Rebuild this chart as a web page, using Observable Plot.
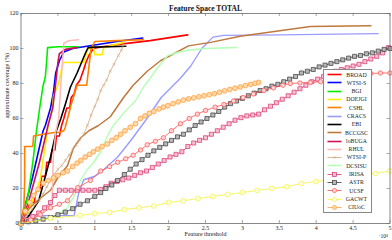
<!DOCTYPE html>
<html><head><meta charset="utf-8">
<script src="https://cdn.jsdelivr.net/npm/d3@7"></script>
<script src="https://cdn.jsdelivr.net/npm/@observablehq/plot@0.6"></script>
<style>
body{margin:0;background:#fff;}
#wrap{position:relative;width:392px;height:240px;font-family:"Liberation Serif","DejaVu Serif",serif;}
#legend{position:absolute;left:323px;top:69px;width:49px;height:144px;border:0.8px solid #888;background:#fff;box-sizing:border-box;padding-top:0.5px;}
.row{display:flex;align-items:center;height:8.3px;}
.row svg{flex:none;margin-left:3px;}
.row span{flex:1;text-align:center;font-size:5.8px;line-height:8.3px;color:#222;}
</style></head>
<body><div id="wrap"><div id="chart"></div><div id="legend"></div></div>
<script>
// ---- data (x in units of 10^4, y in %) ----
const xTicks = [0, 0.5, 1, 1.5, 2, 2.5, 3, 3.5, 4, 4.5, 5];
const yTicks = [0, 20, 40, 60, 80, 100, 120];
const seriesNames = ["BROAD","WTSI-S","BGI","DOEJGI","CSHL","CRACS","EBI","BCCGSC","loBUGA","RHUL","WTSI-P","DCSISU","IRISA","ASTR","UCSF","GACWT","CIUoC"];

const BROAD = [[0,0],[0.06,5],[0.12,12],[0.18,12],[0.2,18],[0.26,20],[0.28,27],[0.33,27],[0.35,35],[0.4,35],[0.42,42],[0.46,42],[0.48,50],[0.52,50],[0.55,56],[0.58,60],[0.62,66],[0.66,66],[0.68,72],[0.72,74],[0.75,79],[0.8,82],[0.85,88],[0.88,92],[0.92,96],[0.98,100],[1.1,101],[1.35,102.5],[1.75,104.5],[2.26,107.8]];
const WTSI_S = [[0,0],[0.02,5],[0.1,17],[0.16,27],[0.23,40],[0.3,53],[0.33,56],[0.4,66],[0.44,75],[0.47,86],[0.52,93],[0.58,98],[0.7,100],[1.0,102],[1.3,104],[1.65,106]];
const BGI = [[0,0],[0.03,5],[0.1,17],[0.16,35],[0.21,53],[0.26,68],[0.3,79],[0.32,82],[0.33,84],[0.35,94],[0.36,100.5],[0.5,101],[0.78,101]];
const DOEJGI = [[0,0],[0.13,10],[0.26,25],[0.36,53],[0.37,57],[0.43,66],[0.44,73],[0.51,80],[0.56,90],[0.57,92],[0.85,92],[0.91,100],[0.98,100.5],[1.0,96.5],[1.1,96.5],[1.12,100.5],[1.39,103.5]];
const CSHL = [[0,0],[0.04,10],[0.05,25],[0.05,44],[0.16,44],[0.17,50],[0.3,51],[0.45,52],[0.52,52],[0.58,53],[0.6,55],[0.68,68],[0.76,79],[0.89,79],[0.95,100],[1.0,104],[1.3,104.5],[1.66,105]];
const CRACS = [[0,0],[0.03,4.5],[0.72,4.5],[0.78,17],[0.85,25],[1.0,27],[1.1,30],[1.31,38],[1.48,47],[1.69,59],[1.9,72],[2.16,83],[2.3,90],[2.45,100],[2.6,106.5],[2.75,107.5],[3.5,107.8],[4.84,108.5]];
const EBI = [[0,0],[0.1,4],[0.24,13],[0.33,27],[0.4,38],[0.48,53],[0.54,60],[0.6,68],[0.67,78],[0.76,86],[0.81,91],[0.88,98],[0.91,100.5],[1.0,100.8],[1.2,101],[1.42,101.3]];
const BCCGSC = [[0,0],[0.1,8],[0.22,13],[0.4,19],[0.51,27],[0.63,33],[0.71,43],[0.81,49],[0.92,53],[1.05,56],[1.21,61],[1.39,72],[1.52,79],[1.71,87],[1.89,93],[2.07,97],[2.27,101.5],[2.57,103.5],[2.97,107],[3.92,112.6],[4.74,113]];
const loBUGA = [[0,0],[0.1,12],[0.25,35],[0.35,53],[0.36,55],[0.43,66],[0.47,80],[0.5,92],[0.52,97],[0.6,99.5],[0.75,100.5]];
const RHUL = [[0,0],[0.25,5],[0.42,12],[0.44,40],[0.47,52],[0.51,60],[0.54,80],[0.57,97],[0.58,103],[0.65,104.5],[0.78,105]];
const WTSI_P = [[0,0],[0.05,3],[0.1,6],[0.15,8],[0.2,11],[0.25,13],[0.3,17],[0.35,21],[0.4,25],[0.45,28],[0.5,31],[0.55,33],[0.6,36],[0.65,39],[0.7,42],[0.75,45],[0.8,48],[0.85,51],[0.9,56],[0.95,62],[1.0,67],[1.04,71],[1.08,76],[1.12,79],[1.16,82],[1.21,87],[1.26,91],[1.32,96],[1.36,99],[1.39,102]];
const DCSISU = [[0,0],[0.3,2],[0.5,5],[0.63,9],[0.75,18],[0.81,25],[0.9,31],[0.97,34],[1.08,41],[1.17,50],[1.25,56],[1.42,64.5],[1.55,70],[1.66,78],[1.75,83],[1.85,89],[1.99,96],[2.12,97.7],[2.26,99],[2.5,100],[2.93,100.6]];
const IRISA = [[0,0],[0.08,2],[0.16,4],[0.24,6],[0.32,9],[0.4,12],[0.46,16],[0.52,19],[0.6,19],[0.68,19],[0.76,19],[0.84,19],[0.92,19],[1.0,19],[1.08,19.5],[1.15,21],[1.22,23],[1.3,24],[1.38,25],[1.46,26],[1.54,27.5],[1.62,29],[1.7,30],[1.78,32],[1.86,34],[1.94,36],[2.02,38],[2.1,39.5],[2.18,41],[2.26,44],[2.34,46],[2.42,47.5],[2.5,49],[2.58,51],[2.66,53],[2.74,55],[2.82,57],[2.9,59],[2.98,60.5],[3.06,61.5],[3.14,62],[3.22,62.5],[3.3,65],[3.38,67],[3.46,69],[3.54,71],[3.62,73],[3.7,75],[3.78,77],[3.86,79],[3.94,81],[4.02,82.5],[4.1,84],[4.18,85.5],[4.26,87],[4.34,88],[4.42,89],[4.5,90],[4.58,91],[4.66,92.5],[4.74,94],[4.82,95.5],[4.9,97.5],[4.98,100.5]];
const ASTR = [[0,0],[0.1,1],[0.2,1.5],[0.3,2.5],[0.4,3.4],[0.5,5],[0.6,6.5],[0.7,8.5],[0.8,11],[0.9,13],[1.0,15.5],[1.08,17.7],[1.15,20],[1.23,22],[1.31,24.6],[1.4,28],[1.48,31],[1.56,34],[1.64,36.5],[1.72,39],[1.8,41.5],[1.88,43.5],[1.96,45.5],[2.04,47.5],[2.12,49.5],[2.2,51],[2.28,53.5],[2.36,56],[2.44,58],[2.52,60],[2.6,62],[2.68,64],[2.76,66.5],[2.84,68.5],[2.92,70],[3.0,71.5],[3.08,73],[3.16,74.5],[3.24,76],[3.32,77],[3.4,78.5],[3.48,79.5],[3.56,81],[3.64,82.5],[3.72,84],[3.8,86],[3.88,87],[3.96,88],[4.04,89.5],[4.12,90.5],[4.2,91.5],[4.28,92.5],[4.36,93.5],[4.44,94.5],[4.52,95.5],[4.6,96],[4.68,97],[4.76,97.5],[4.84,98.5],[4.92,99.5],[5.0,100]];
const UCSF = [[0,0],[0.13,2],[0.26,5],[0.4,9],[0.52,11],[0.63,13],[0.77,20.5],[0.94,24.6],[1.08,30],[1.2,32.5],[1.31,35],[1.42,37],[1.52,39],[1.62,42],[1.71,45],[1.82,47],[1.93,49],[2.04,53],[2.16,57],[2.28,60],[2.39,62.5],[2.5,64.6],[2.63,66.5],[2.75,68],[2.88,70],[3.01,72],[3.15,74],[3.29,76],[3.42,77.5],[3.55,79],[3.65,80],[3.78,80.3],[3.92,80.6],[4.06,81],[4.2,81.5],[4.33,82],[4.47,83.5],[4.6,84.5],[4.74,85.7],[4.87,86],[5.0,86]];
const GACWT = [[0,0],[0.4,3],[0.8,4.6],[1.0,5.7],[1.2,6.3],[1.4,8],[1.6,9],[1.8,10],[2.0,12],[2.2,13],[2.4,14.3],[2.6,15.4],[2.8,16.6],[3.0,17.7],[3.2,18.9],[3.4,20],[3.6,21],[3.8,22.9],[4.0,24],[4.2,25.2],[4.4,26.3],[4.6,27.4],[4.8,28.6],[5.0,30]];
const CIUoC = [[0,0],[0.06,7],[0.12,12],[0.17,16],[0.23,19.5],[0.3,23],[0.37,24.5],[0.44,26],[0.5,27.5],[0.57,29],[0.63,30],[0.7,32.5],[0.76,34.5],[0.81,36],[0.87,38],[0.93,39.5],[0.98,41],[1.04,42.5],[1.1,44],[1.17,45.5],[1.23,47.5],[1.29,49],[1.35,51],[1.41,53],[1.48,55],[1.55,57],[1.62,60],[1.68,61.5],[1.74,63],[1.8,64],[1.87,65.5],[1.93,66.5],[1.99,67.3],[2.06,68.5],[2.13,69.5],[2.2,70.5],[2.27,71.2],[2.34,71.8],[2.41,72.4],[2.48,73],[2.55,73.6],[2.62,74.2],[2.69,75],[2.76,75.8],[2.83,76.6],[2.9,77.3],[2.97,78],[3.04,78.8],[3.11,79.5],[3.17,80.1],[3.22,80.6]];

const seriesData = [BROAD, WTSI_S, BGI, DOEJGI, CSHL, CRACS, EBI, BCCGSC, loBUGA, RHUL, WTSI_P, DCSISU, IRISA, ASTR, UCSF, GACWT, CIUoC];

// ---- styles ----
const styles = [
  {stroke:"#ff0000", sw:1.6},
  {stroke:"#0000ff", sw:1.6},
  {stroke:"#00ee00", sw:1.6},
  {stroke:"#ffee00", sw:1.6},
  {stroke:"#ff8000", sw:1.6},
  {stroke:"#9c9cff", sw:1.4},
  {stroke:"#000000", sw:1.6},
  {stroke:"#c0783c", sw:1.5},
  {stroke:"#d0105a", sw:1.6},
  {stroke:"#ffb8b8", sw:1.5},
  {stroke:"#d2a57a", sw:0.8, symbol:"times", r:1.4, fill:"none", msw:0.6},
  {stroke:"#b4ffb4", sw:1.4},
  {stroke:"#d8336e", sw:0.8, symbol:"square", r:2.3, fill:"#f6bfd0", msw:0.7},
  {stroke:"#3a3a3a", sw:0.8, symbol:"square", r:2.3, fill:"#b8b8b8", msw:0.7},
  {stroke:"#ff4d4d", sw:0.8, symbol:"circle", r:2.2, fill:"#ffd6d6", msw:0.7},
  {stroke:"#f2f23a", sw:0.8, symbol:"circle", r:2.4, fill:"#ffffe0", msw:0.7},
  {stroke:"#ffa040", sw:0.8, symbol:"circle", r:2.4, fill:"#ffd9a8", msw:0.8}
];

const marks = [];
seriesData.forEach((data, i) => {
  const s = styles[i];
  marks.push(Plot.line(data, {x: d => d[0], y: d => d[1], stroke: s.stroke, strokeWidth: s.sw, strokeLinejoin: "round"}));
  if (s.symbol) {
    marks.push(Plot.dot(data, {x: d => d[0], y: d => d[1], symbol: s.symbol, r: s.r, stroke: s.stroke, fill: s.fill, strokeWidth: s.msw}));
  }
});

const chart = Plot.plot({
  width: 392, height: 240,
  marginLeft: 20.5, marginRight: 2.5, marginTop: 13, marginBottom: 17,
  style: {fontFamily: '"Liberation Serif","DejaVu Serif",serif', fontSize: "6px", background: "white", color: "#222"},
  x: {domain: [0, 5], label: null},
  y: {domain: [0, 120], label: null},
  marks: [
    ...marks,
    Plot.frame({stroke: "#6a6a6a", strokeWidth: 0.8}),
    Plot.tickX(xTicks, {x: d => d, insetTop: 207, stroke: "#6a6a6a", strokeWidth: 0.6}),
    Plot.tickX(xTicks, {x: d => d, insetBottom: 207, stroke: "#6a6a6a", strokeWidth: 0.6}),
    Plot.tickY(yTicks, {y: d => d, insetRight: 366, stroke: "#6a6a6a", strokeWidth: 0.6}),
    Plot.tickY(yTicks, {y: d => d, insetLeft: 366, stroke: "#6a6a6a", strokeWidth: 0.6}),
    Plot.axisX(xTicks, {tickSize: 0, tickPadding: 2.2, tickFormat: d => String(d), label: null, fontSize: 6}),
    Plot.axisY(yTicks, {tickSize: 0, tickPadding: 2.5, tickFormat: d => String(d), label: null, fontSize: 6}),
    Plot.text(["Feature Space TOTAL"], {frameAnchor: "top", dy: -8, fontWeight: "bold", fontSize: 7.5, fill: "#111"}),
    Plot.text(["Feature threshold"], {frameAnchor: "bottom", dy: 12.8, fontSize: 6, fill: "#222"}),
    Plot.text(["approximate coverage (%)"], {frameAnchor: "left", dx: -14, rotate: -90, fontSize: 6.2, fill: "#222"}),
    Plot.text(["·10⁴"], {frameAnchor: "bottom-right", dx: -2, dy: 14.5, fontSize: 5.5, textAnchor: "end", fill: "#222"})
  ]
});
document.getElementById("chart").appendChild(chart);

// ---- legend ----
const legend = document.getElementById("legend");
seriesNames.forEach((name, i) => {
  const s = styles[i];
  let sym = "";
  if (s.symbol === "square") sym = `<rect x="5.5" y="1.5" width="4" height="4" fill="${s.fill}" stroke="${s.stroke}" stroke-width="0.7"/>`;
  else if (s.symbol === "circle") sym = `<circle cx="7.5" cy="3.5" r="2.1" fill="${s.fill}" stroke="${s.stroke}" stroke-width="0.7"/>`;
  else if (s.symbol === "times") sym = `<path d="M6.3 2.3L8.7 4.7M8.7 2.3L6.3 4.7" stroke="${s.stroke}" stroke-width="0.6"/>`;
  const sw = s.symbol ? 0.8 : 1.6;
  const row = document.createElement("div");
  row.className = "row";
  row.innerHTML = `<svg width="15" height="7"><line x1="0.5" y1="3.5" x2="14.5" y2="3.5" stroke="${s.stroke}" stroke-width="${sw}"/>${sym}</svg><span>${name}</span>`;
  legend.appendChild(row);
});
</script>
</body></html>
